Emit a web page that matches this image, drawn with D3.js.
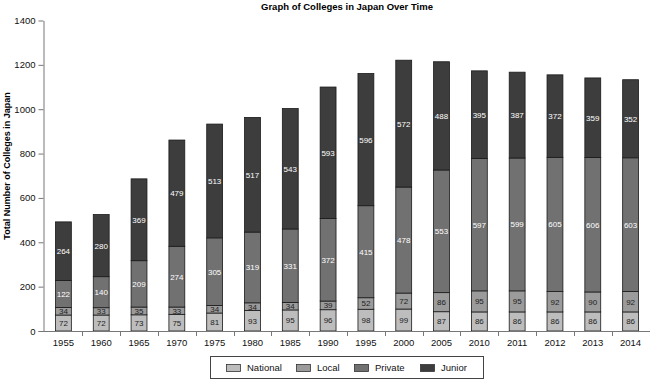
<!DOCTYPE html>
<html><head><meta charset="utf-8">
<script src="https://cdn.jsdelivr.net/npm/d3@7"></script>
<style>body{margin:0;background:#fff;}svg{display:block;font-family:Arial,"Liberation Sans",Helvetica,sans-serif;}</style>
</head><body>
<svg id="chart" width="650" height="380"></svg>
<script>
const years = ["1955","1960","1965","1970","1975","1980","1985","1990","1995","2000","2005","2010","2011","2012","2013","2014"];
const national = [72,72,73,75,81,93,95,96,98,99,87,86,86,86,86,86];
const local = [34,33,35,33,34,34,34,39,52,72,86,95,95,92,90,92];
const privateU = [122,140,209,274,305,319,331,372,415,478,553,597,599,605,606,603];
const junior = [264,280,369,479,513,517,543,593,596,572,488,395,387,372,359,352];
const seriesNames = ["National","Local","Private","Junior"];
const yTicks = [0,200,400,600,800,1000,1200,1400];

const colors = {National:"#bdbdbd", Local:"#9b9b9b", Private:"#717171", Junior:"#3d3d3d"};
const textColors = {National:"#222", Local:"#222", Private:"#fff", Junior:"#fff"};

const svg = d3.select("#chart");
const x = d3.scaleBand().domain(years).range([44.5, 649.5]).padding(0);
const y = d3.scaleLinear().domain([0,1400]).range([331, 20.5]);
const barW = x.bandwidth()*0.42;

const table = years.map((yr,i)=>({year:yr, National:national[i], Local:local[i], Private:privateU[i], Junior:junior[i]}));
const stacked = d3.stack().keys(seriesNames)(table);

// title
svg.append("text").attr("x",347).attr("y",10).attr("text-anchor","middle")
  .attr("font-size","9.5px").attr("font-weight","bold").text("Graph of Colleges in Japan Over Time");

// y title
svg.append("text").attr("transform","translate(10,166) rotate(-90)").attr("text-anchor","middle")
  .attr("font-size","9px").attr("font-weight","bold").text("Total Number of Colleges in Japan");

// bars
const g = svg.append("g");
stacked.forEach(s=>{
  const key = s.key;
  g.selectAll(null).data(s).enter().append("rect")
    .attr("x",d=>x(d.data.year)+x.bandwidth()/2-barW/2)
    .attr("y",d=>y(d[1]))
    .attr("width",barW)
    .attr("height",d=>y(d[0])-y(d[1]))
    .attr("fill",colors[key]).attr("stroke","#1a1a1a").attr("stroke-width",0.8);
  g.selectAll(null).data(s).enter().append("text")
    .attr("x",d=>x(d.data.year)+x.bandwidth()/2)
    .attr("y",d=>(y(d[0])+y(d[1]))/2+3)
    .attr("text-anchor","middle").attr("font-size","8px")
    .attr("fill",textColors[key])
    .text(d=>d.data[key]);
});

// y axis
const yAxis = d3.axisLeft(y).tickValues(yTicks).tickFormat(d3.format("d")).tickSize(5).tickPadding(3).tickSizeOuter(0);
const ya = svg.append("g").attr("transform","translate(43.5,0)").call(yAxis);
ya.select(".domain").attr("stroke","#777");
ya.selectAll(".tick line").attr("stroke","#777");
ya.selectAll(".tick text").attr("font-size","9.5px").attr("fill","#111").attr("font-family",null);

// x axis
svg.append("line").attr("x1",38.5).attr("x2",650).attr("y1",331.5).attr("y2",331.5).attr("stroke","#777");
const bounds = years.map(yr=>x(yr)+x.bandwidth());
svg.selectAll(null).data(bounds).enter().append("line")
  .attr("x1",d=>Math.round(d)+0.5).attr("x2",d=>Math.round(d)+0.5)
  .attr("y1",331.5).attr("y2",336).attr("stroke","#777");
svg.selectAll(null).data(years).enter().append("text")
  .attr("x",d=>x(d)+x.bandwidth()/2).attr("y",346)
  .attr("text-anchor","middle").attr("font-size","9.5px").attr("fill","#111").text(d=>d);

// legend
const lg = svg.append("g");
lg.append("rect").attr("x",210.5).attr("y",356.5).attr("width",273).attr("height",22)
  .attr("fill","#fff").attr("stroke","#444").attr("stroke-width",1);
const legX = [226,296,354,420];
seriesNames.forEach((k,i)=>{
  lg.append("rect").attr("x",legX[i]+0.5).attr("y",364.5).attr("width",14).attr("height",7)
    .attr("fill",colors[k]).attr("stroke","#333").attr("stroke-width",0.8);
  lg.append("text").attr("x",legX[i]+21).attr("y",371).attr("font-size","9.5px").attr("fill","#111").text(k);
});
</script>
</body></html>
